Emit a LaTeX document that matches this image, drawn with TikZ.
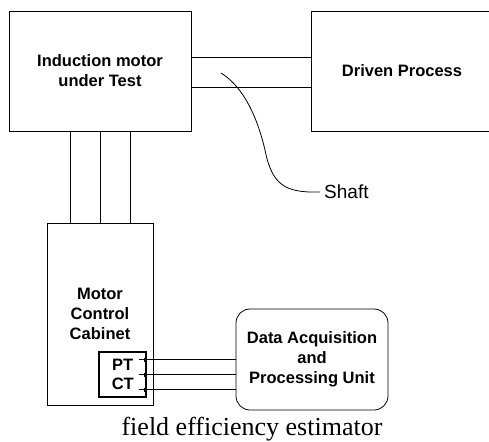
\documentclass[tikz,border=0pt]{standalone}
\usepackage{fontspec}
\setmainfont{Liberation Serif}
\setsansfont{Liberation Sans}
\usetikzlibrary{positioning}

\begin{document}
\begin{tikzpicture}[x=1pt, y=-1pt,
          blk/.style={draw, rectangle, line width=0.8pt, inner sep=0pt, align=center,
                      font=\sffamily\bfseries\fontsize{16.5}{20}\selectfont},
          wire/.style={draw, line width=0.8pt}
        ]
        \path[use as bounding box, clip] (0,0) rectangle (489,441);

        \node[blk, minimum width=182pt, minimum height=120pt]
              (motor) at (100,71) {Induction motor\\under Test};
        \node[blk, minimum width=182pt, minimum height=120pt]
              (driven) at (402,71) {Driven Process};
        \node[blk, minimum width=106pt, minimum height=182pt]
              (cabinet) at (100,314) {Motor\\Control\\Cabinet};
        \node[blk, line width=1.6pt, minimum width=47pt, minimum height=45pt,
              font=\sffamily\bfseries\fontsize{16.5}{19}\selectfont]
              (ptct) at (122.75,374.5) {PT\\CT};
        \node[blk, rounded corners=14pt, minimum width=152pt, minimum height=101pt]
              (daq) at (312,359.5) {Data Acquisition\\and\\Processing Unit};

        \node[font=\sffamily\fontsize{19}{22}\selectfont, anchor=west, inner sep=4pt]
              (shaft) at (320,192) {Shaft};
        \coordinate (tip) at (221,73);
        \node[font=\fontsize{26}{30}\selectfont, anchor=base, inner sep=0pt]
              (caption) at (252,435) {field efficiency estimator};

        \draw[wire] ([yshift=14pt]motor.east) -- ([yshift=14pt]driven.west);
        \draw[wire] ([yshift=-16pt]motor.east) -- ([yshift=-16pt]driven.west);
        \draw[wire] (tip) .. controls (245,88) and (258,120) .. (265,150)
              .. controls (272,185) and (285,193) .. (shaft.west);

        \foreach \dx in {-30,0,30}
          \draw[wire] ([xshift=\dx pt]motor.south) -- ([xshift=\dx pt]cabinet.north);

        \foreach \dy [count=\i] in {15,0,-15} {
          \path ([xshift=-8pt, yshift=\dy pt]ptct.east) coordinate (lead\i);
          \draw[wire] (lead\i) -- (lead\i -| daq.west);
          \draw[wire] ([xshift=5pt, yshift=2pt]lead\i) -- ([xshift=5pt, yshift=-2pt]lead\i);
        }
      \end{tikzpicture}
\end{document}
